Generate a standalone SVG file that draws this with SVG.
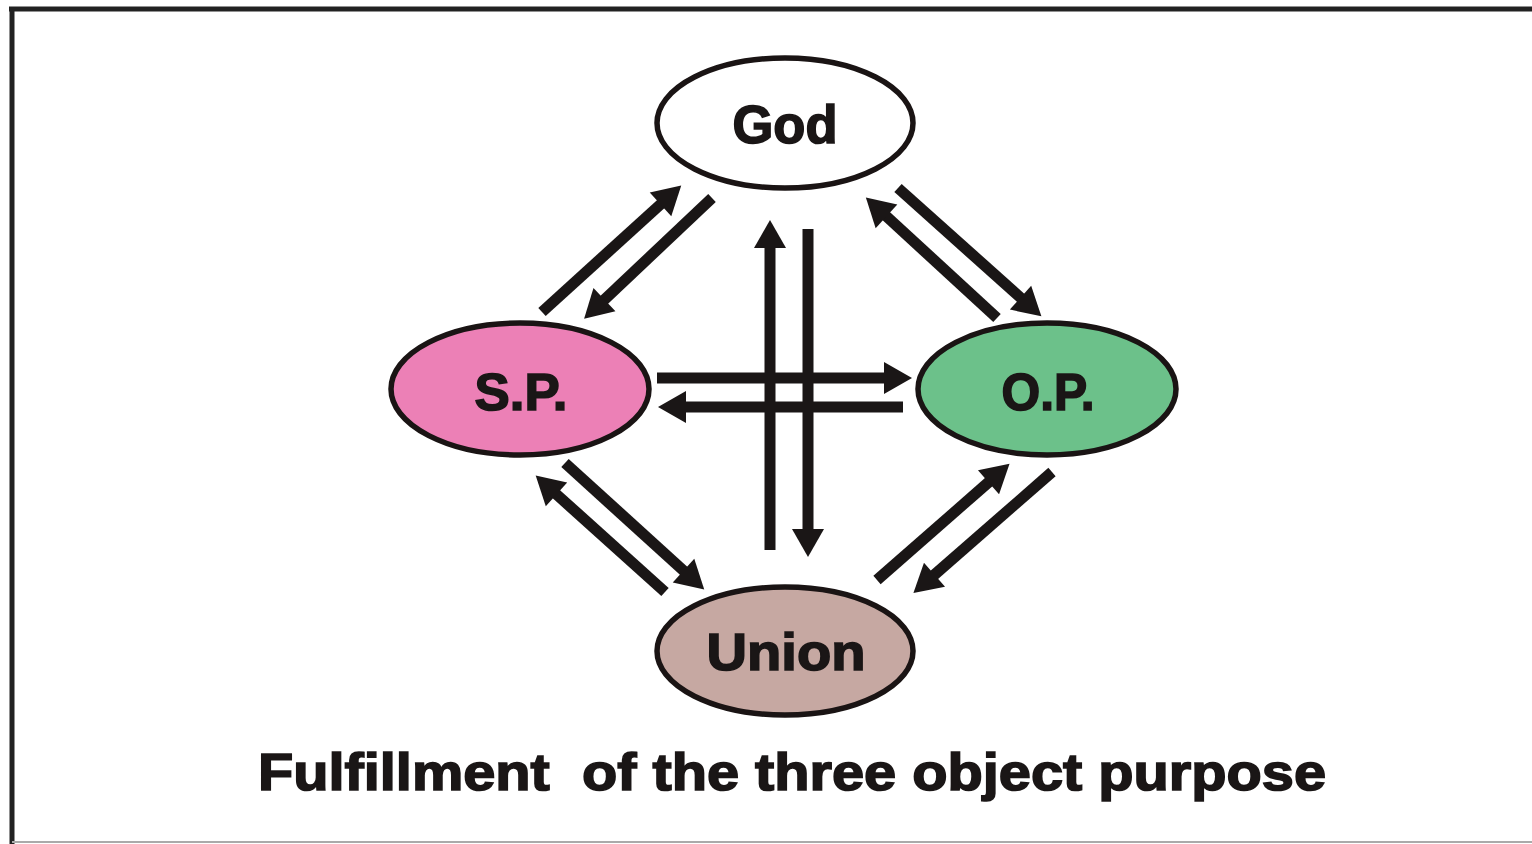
<svg xmlns="http://www.w3.org/2000/svg" width="1532" height="844" viewBox="0 0 1532 844">
<style>
.node ellipse{stroke:#1a1414;stroke-width:5.5}
.lbl{font-family:"Liberation Sans",Arial,sans-serif;font-weight:bold;fill:#1a1616;stroke:#1a1616;stroke-width:1.6;text-anchor:middle}
.conn line{stroke:#1a1616;stroke-width:11;marker-end:url(#ah)}
</style>
<defs>
<marker id="ah" markerUnits="userSpaceOnUse" markerWidth="32" markerHeight="36" viewBox="0 -18 32 36" refX="0" refY="0" orient="auto" overflow="visible">
<path d="M-2,-16 L26,0 L-2,16 z" fill="#1a1616"/>
</marker>
</defs>
<rect width="1532" height="844" fill="#fff"/>
<g id="frame">
<line x1="9" y1="9" x2="1532" y2="9" stroke="#222" stroke-width="5"/>
<line x1="12" y1="7" x2="12" y2="844" stroke="#222" stroke-width="5"/>
<line x1="12" y1="842" x2="1532" y2="842" stroke="#aaa" stroke-width="2"/>
</g>
<g class="conn" id="connectors">
<line x1="542" y1="312" x2="662" y2="203"/>
<line x1="712" y1="198" x2="603" y2="301"/>
<line x1="997" y1="318" x2="885" y2="215"/>
<line x1="898" y1="188" x2="1022" y2="299"/>
<line x1="665" y1="592" x2="555" y2="493"/>
<line x1="565" y1="463" x2="685" y2="572"/>
<line x1="877" y1="580" x2="990" y2="481"/>
<line x1="1052" y1="472" x2="933" y2="576"/>
<line x1="657" y1="378" x2="886" y2="378"/>
<line x1="903" y1="407" x2="684" y2="407"/>
<line x1="770" y1="550" x2="770" y2="246"/>
<line x1="808" y1="229" x2="808" y2="531"/>
</g>
<g class="node" id="god">
<ellipse cx="785" cy="123" rx="128" ry="65" fill="#fff"/>
<text class="lbl" x="785" y="143" font-size="54" textLength="105" lengthAdjust="spacingAndGlyphs">God</text>
</g>
<g class="node" id="sp">
<ellipse cx="520" cy="389" rx="129" ry="66" fill="#ec80b6"/>
<text class="lbl" x="521" y="410" font-size="51" textLength="93" lengthAdjust="spacingAndGlyphs">S.P.</text>
</g>
<g class="node" id="op">
<ellipse cx="1047" cy="389" rx="129" ry="66" fill="#6cc18a"/>
<text class="lbl" x="1048" y="410" font-size="51" textLength="93" lengthAdjust="spacingAndGlyphs">O.P.</text>
</g>
<g class="node" id="union">
<ellipse cx="785" cy="651" rx="128" ry="64" fill="#c6a8a2"/>
<text class="lbl" x="786" y="670" font-size="52" textLength="159" lengthAdjust="spacingAndGlyphs">Union</text>
</g>
<g id="title">
<text class="lbl" x="792" y="790" font-size="52" xml:space="preserve" textLength="1068" lengthAdjust="spacingAndGlyphs">Fulfillment  of the three object purpose</text>
</g>
</svg>
